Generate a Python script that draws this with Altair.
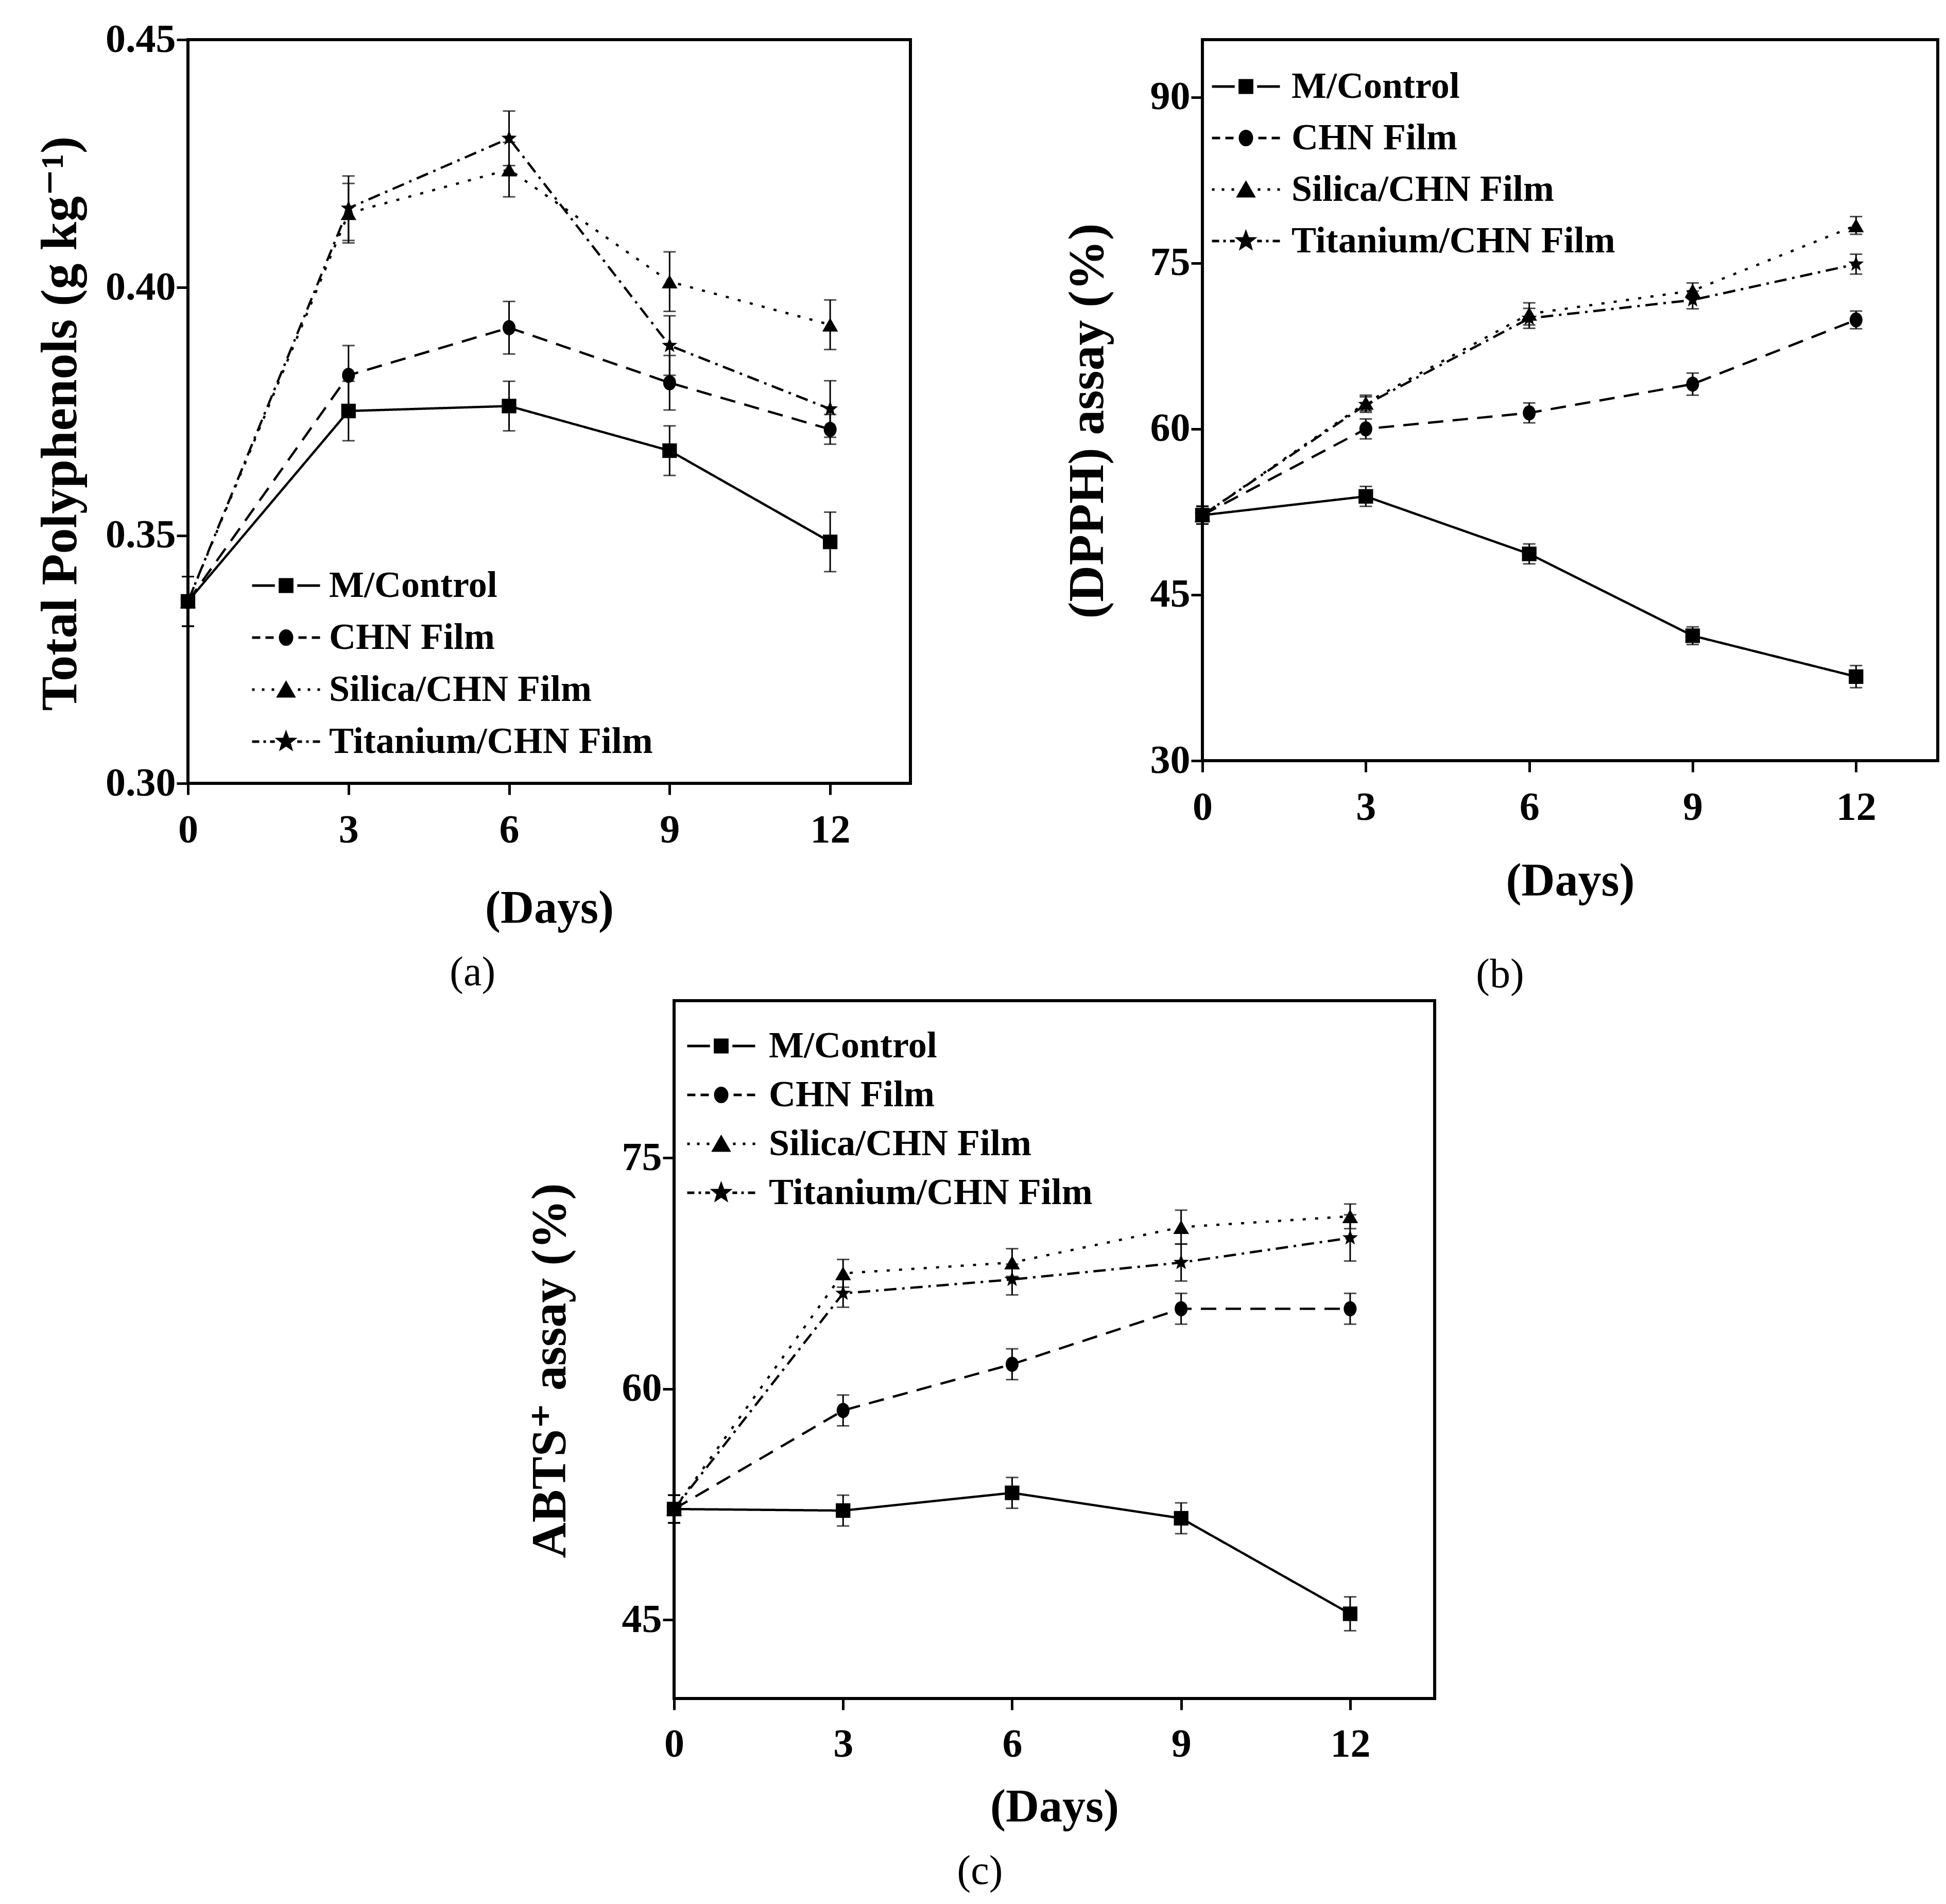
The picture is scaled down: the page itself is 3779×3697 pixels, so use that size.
import math

import altair as alt
import pandas as pd

days = [0, 3, 6, 9, 12]
series = ["M/Control", "CHN Film", "Silica/CHN Film", "Titanium/CHN Film"]

# (a) Total polyphenols, g kg-1
tp_control = [0.3367, 0.3751, 0.3761, 0.3671, 0.3487]
tp_chn = [0.3367, 0.3823, 0.3919, 0.3808, 0.3714]
tp_silica = [0.3367, 0.4150, 0.4238, 0.4012, 0.3925]
tp_titanium = [0.3367, 0.4160, 0.4301, 0.3883, 0.3755]
tp_err_control = [0.005, 0.006, 0.005, 0.005, 0.006]
tp_err_chn = [0.005, 0.006, 0.0053, 0.0055, 0.003]
tp_err_silica = [0.005, 0.006, 0.0055, 0.006, 0.005]
tp_err_titanium = [0.005, 0.0065, 0.0055, 0.006, 0.0057]

# (b) DPPH assay, %
dpph_control = [52.2, 53.9, 48.7, 41.3, 37.6]
dpph_chn = [52.2, 60.0, 61.45, 64.05, 69.86]
dpph_silica = [52.2, 62.35, 70.4, 72.5, 78.4]
dpph_titanium = [52.2, 62.2, 70.0, 71.66, 74.9]
dpph_err_control = [0.8, 0.9, 0.9, 0.8, 1.0]
dpph_err_chn = [0.8, 0.9, 0.9, 1.0, 0.8]
dpph_err_silica = [0.8, 0.7, 1.0, 0.7, 0.8]
dpph_err_titanium = [0.8, 0.7, 0.9, 0.8, 0.9]

# (c) ABTS+ assay, %
abts_control = [52.2, 52.1, 53.25, 51.6, 45.4]
abts_chn = [52.2, 58.6, 61.6, 65.2, 65.2]
abts_silica = [52.2, 67.5, 68.2, 70.5, 71.2]
abts_titanium = [52.2, 66.2, 67.1, 68.2, 69.8]
abts_err_control = [0.9, 1.0, 1.0, 1.0, 1.1]
abts_err_chn = [0.9, 1.0, 1.0, 1.0, 1.0]
abts_err_silica = [0.9, 0.9, 0.9, 1.1, 0.8]
abts_err_titanium = [0.9, 0.9, 1.0, 1.2, 1.5]

FONT = "Liberation Serif, Times New Roman, DejaVu Serif, serif"

line_dashes = [[1, 0], [30, 18], [6, 18], [24, 11, 5, 11]]
key_dashes = [None, [16, 10], [5, 14], [14, 8, 5, 8]]
U = 66.0  # legend key: px per path unit


def star(r_out, r_in):
    pts = []
    for k in range(10):
        r = r_out if k % 2 == 0 else r_in
        a = -math.pi / 2 + k * math.pi / 5
        pts.append(f"{r * math.cos(a):.3f},{r * math.sin(a):.3f}")
    return "M" + "L".join(pts) + "Z"


def ellipse(rx, ry):
    return (f"M{rx},0A{rx},{ry} 0 1,1 {-rx},0A{rx},{ry} 0 1,1 {rx},0Z")


def segs(dash, x0, x1, flip=False):
    if dash is None:
        return f"M{x0:.3f},0H{x1:.3f}"
    out, pos, i = [], 0.0, 0
    span = x1 - x0
    while pos < span:
        ln = dash[i % len(dash)] / U
        if i % 2 == 0:
            a, b = pos, min(pos + ln, span)
            if flip:
                out.append(f"M{x1 - a:.3f},0H{x1 - b:.3f}")
            else:
                out.append(f"M{x0 + a:.3f},0H{x0 + b:.3f}")
        pos += ln
        i += 1
    return "".join(out)


marker_shapes = ["square", ellipse(0.85, 1), "triangle-up", star(1, 0.42)]
marker_sizes = [800, 1000, 1200, 1400]

key_markers = [
    "M-0.18,-0.18H0.18V0.18H-0.18Z",
    ellipse(0.174, 0.205),
    "M0,-0.197L0.227,0.197L-0.227,0.197Z",
    star(0.242, 0.1),
]
key_paths = [
    segs(d, -1, -0.33) + segs(d, 0.33, 1, flip=True) + m
    for d, m in zip(key_dashes, key_markers)
]


def long_table(values, errors):
    rows = []
    for s, vals, errs in zip(series, values, errors):
        for d, v, e in zip(days, vals, errs):
            rows.append({"day": d, "series": s, "val": v, "lo": v - e, "hi": v + e})
    return pd.DataFrame(rows)


def panel(values, errors, y_domain, y_ticks, y_format, y_title, p):
    df = long_table(values, errors)
    base = alt.Chart(df)
    x = alt.X("day:Q", scale=alt.Scale(domain=[0, 13.5], nice=False, zero=False),
              axis=alt.Axis(values=days, format="d", title="(Days)",
                            labelPadding=p["xlab_pad"], titlePadding=p["xtitle_pad"]))
    y = alt.Y("val:Q", scale=alt.Scale(domain=y_domain, nice=False, zero=False),
              axis=alt.Axis(values=y_ticks, format=y_format, title=y_title,
                            titleFontSize=p["ytitle_size"], titlePadding=p["ytitle_pad"],
                            titleY=p["ytitle_y"]))

    lines = base.mark_line(color="black", strokeWidth=4.5).encode(
        x=x, y=y,
        strokeDash=alt.StrokeDash("series:N", scale=alt.Scale(domain=series, range=line_dashes),
                                  legend=None),
    )
    bars = base.mark_rule(color="black", strokeWidth=3).encode(x="day:Q", y="lo:Q", y2="hi:Q")
    caps_lo = base.mark_tick(orient="horizontal", color="black", size=24, thickness=3).encode(
        x="day:Q", y="lo:Q")
    caps_hi = base.mark_tick(orient="horizontal", color="black", size=24, thickness=3).encode(
        x="day:Q", y="hi:Q")
    points = base.mark_point(filled=True, color="black", opacity=1).encode(
        x="day:Q", y="val:Q",
        shape=alt.Shape("series:N", scale=alt.Scale(domain=series, range=marker_shapes),
                        legend=None),
        size=alt.Size("series:N", scale=alt.Scale(domain=series, range=marker_sizes),
                      legend=None),
    )
    # legend only: line sample + marker, drawn by the legend itself
    key = base.transform_filter("false").mark_point(
        filled=True, color="black", stroke="black", strokeWidth=5, opacity=1
    ).encode(
        x="day:Q", y="val:Q",
        shape=alt.Shape("series:N", scale=alt.Scale(domain=series, range=key_paths),
                        legend=alt.Legend(
                            title=None, orient="none", legendX=p["lx"], legendY=p["ly"],
                            padding=0, symbolSize=17424, symbolStrokeWidth=5,
                            symbolOpacity=1, clipHeight=80, rowPadding=p["row_pad"],
                            labelOffset=p["lab_off"], labelFont=FONT, labelFontSize=72,
                            labelFontWeight="bold", labelColor="black", labelLimit=2000,
                        )),
    )
    return alt.layer(lines, bars, caps_lo, caps_hi, points, key).resolve_scale(
        shape="independent"
    ).properties(
        width=p["w"], height=p["h"],
        title=alt.Title(p["caption"], orient="bottom", anchor="middle", frame="bounds",
                        font=FONT, fontSize=80, fontWeight="normal", color="black",
                        offset=p["cap_off"]),
    )


pa = dict(w=1403, h=1444, ytitle_size=100, ytitle_pad=36, ytitle_y=745, xlab_pad=30,
          xtitle_pad=69, caption="(a)", cap_off=41, lx=122, ly=1020, row_pad=21, lab_off=15)
pb = dict(w=1428, h=1400, ytitle_size=98, ytitle_pad=71, ytitle_y=740, xlab_pad=30,
          xtitle_pad=60, caption="(b)", cap_off=98, lx=16, ly=51, row_pad=20, lab_off=20)
pc = dict(w=1477, h=1355, ytitle_size=96, ytitle_pad=90, ytitle_y=718, xlab_pad=28,
          xtitle_pad=39, caption="(c)", cap_off=41, lx=23, ly=48, row_pad=15, lab_off=24)

chart_a = panel([tp_control, tp_chn, tp_silica, tp_titanium],
                [tp_err_control, tp_err_chn, tp_err_silica, tp_err_titanium],
                [0.30, 0.45], [0.30, 0.35, 0.40, 0.45], ".2f",
                "Total Polyphenols  (g kg⁻¹)", pa)
chart_b = panel([dpph_control, dpph_chn, dpph_silica, dpph_titanium],
                [dpph_err_control, dpph_err_chn, dpph_err_silica, dpph_err_titanium],
                [30, 95.2], [30, 45, 60, 75, 90], "d", "(DPPH) assay (%)", pb)
chart_c = panel([abts_control, abts_chn, abts_silica, abts_titanium],
                [abts_err_control, abts_err_chn, abts_err_silica, abts_err_titanium],
                [39.9, 85.2], [45, 60, 75], "d", "ABTS⁺ assay (%)", pc)

spacer = alt.Chart(pd.DataFrame({"v": [0]})).mark_point(opacity=0).encode(
    x=alt.value(0), y=alt.value(0)
).properties(width=652, height=10, view=alt.ViewBackground(strokeOpacity=0))

row1 = alt.hconcat(chart_a, chart_b, spacing=289)
row2 = alt.hconcat(spacer, chart_c, spacing=0)

chart = alt.vconcat(row1, row2, spacing=4).properties(
    padding={"left": 56, "top": 27, "right": 5, "bottom": 5},
    background="white",
).configure_view(
    stroke="black", strokeWidth=6
).configure_axis(
    labelFont=FONT, labelFontSize=78, labelFontWeight="bold", labelColor="black",
    titleFont=FONT, titleFontWeight="bold", titleColor="black",
    tickSize=22, tickWidth=5, tickColor="black", domain=False, grid=False, labelPadding=2,
    labelFlush=False,
).configure_axisX(
    titleFontSize=90
)

chart.save("out.html", embed_options={"renderer": "svg", "actions": False})
